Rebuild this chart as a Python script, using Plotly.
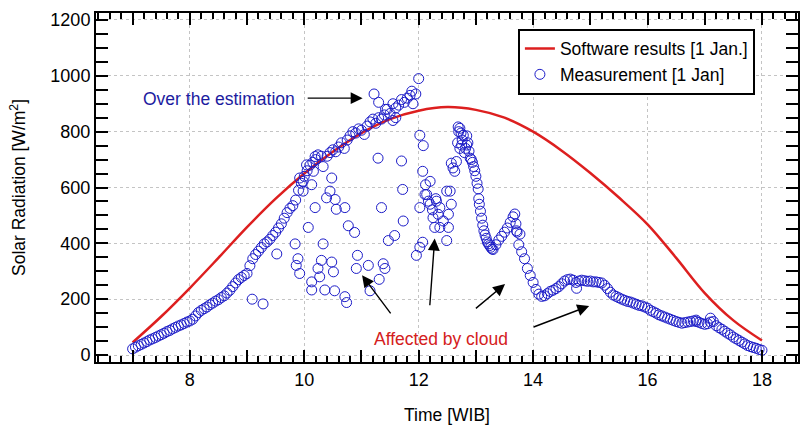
import plotly.graph_objects as go

# ---------------- data ----------------
soft_time = [7.0, 7.5, 8.0, 8.5, 9.0, 9.5, 10.0, 10.5, 11.0, 11.5, 12.0, 12.5,
             13.0, 13.5, 14.0, 14.5, 15.0, 15.5, 16.0, 16.5, 17.0, 17.5, 18.0]
soft_value = [45, 138, 240, 348, 458, 560, 650, 728, 795, 845, 875, 888,
              878, 850, 800, 732, 652, 564, 468, 348, 222, 124, 52]

# morning band
morning_time = [7.00, 7.05, 7.10, 7.15, 7.20, 7.25, 7.30, 7.35, 7.40, 7.45, 7.50, 7.55,
                7.60, 7.65, 7.70, 7.75, 7.80, 7.85, 7.90, 7.95, 8.00, 8.05, 8.10, 8.15,
                8.20, 8.25, 8.30, 8.35, 8.40, 8.45, 8.50, 8.55, 8.60, 8.65, 8.70, 8.75,
                8.80, 8.85, 8.90, 8.95, 9.00, 9.05, 9.10, 9.15, 9.20, 9.25, 9.30, 9.35,
                9.40, 9.45, 9.50, 9.55, 9.60, 9.65, 9.70, 9.75, 9.80, 9.85, 9.90, 9.95,
                10.00, 10.05, 10.10, 10.15, 10.20, 10.30]
morning_value = [22, 28, 33, 38, 43, 48, 54, 58, 63, 68, 73, 78,
                 84, 88, 94, 99, 104, 108, 113, 118, 122, 128, 140, 152,
                 160, 166, 172, 180, 186, 193, 198, 206, 212, 222, 232, 245,
                 258, 270, 278, 285, 292, 320, 345, 360, 372, 385, 398, 405,
                 415, 428, 440, 455, 470, 490, 510, 525, 535, 555, 590, 615,
                 640, 660, 680, 690, 700, 712]

# upper envelope near noon (incl. over-estimation points)
upper_time = [10.40, 10.45, 10.50, 10.55, 10.60, 10.65, 10.70, 10.75, 10.80, 10.85,
              10.90, 10.95, 11.00, 11.05, 11.10, 11.15, 11.20, 11.25, 11.30, 11.35,
              11.40, 11.45, 11.50, 11.55, 11.60, 11.65, 11.70, 11.75, 11.80, 11.85,
              11.90, 11.95, 12.00, 11.22, 11.30, 11.42, 11.88, 11.55, 11.60,
              9.98, 10.13, 9.92, 10.04, 10.19, 10.24, 10.33, 10.16, 9.98]
upper_value = [712, 725, 735, 728, 745, 760, 740, 770, 785, 800,
               795, 810, 805, 790, 820, 835, 845, 830, 850, 845,
               860, 880, 865, 900, 885, 895, 915, 905, 920, 930,
               900, 935, 990, 935, 905, 880, 945, 840, 850,
               587, 610, 634, 681, 711, 717, 675, 658, 622]

# scattered cloud-affected points
cloud_time = [9.09, 9.28, 9.52, 9.84, 9.89, 9.86, 9.92,
              10.19, 10.07, 10.45, 10.48, 10.39, 10.54, 10.56, 10.71, 10.77, 10.88,
              10.33, 10.30, 10.24, 10.27, 10.13, 10.13, 10.36, 10.48, 10.51, 10.53,
              10.71, 10.74, 10.93, 10.91, 11.12, 11.31, 11.38, 11.41, 11.15, 11.35,
              11.47, 11.58, 11.73, 11.72, 11.70, 11.29, 12.02, 12.08, 12.02, 12.07,
              11.96, 12.07, 12.20, 12.14, 12.02, 12.20, 12.31, 12.37, 12.25, 12.37,
              12.49, 12.52, 12.55, 12.28, 12.17, 12.11, 12.49, 12.57, 12.34, 12.52,
              12.24, 12.30, 12.12, 12.43]
cloud_value = [200, 183, 362, 398, 345, 321, 292,
               528, 457, 587, 634, 563, 557, 522, 528, 463, 439,
               398, 339, 310, 280, 262, 233, 233, 333, 298, 230,
               209, 188, 357, 310, 321, 271, 327, 310, 230, 528,
               410, 428, 480, 593, 695, 705, 787, 750, 386, 404,
               357, 658, 622, 575, 528, 540, 551, 528, 492, 457,
               410, 504, 587, 457, 551, 575, 587, 540, 504, 457,
               520, 560, 610, 480]

# afternoon band
afternoon_time = [12.57, 12.60, 12.63, 12.66, 12.68, 12.70, 12.72, 12.74, 12.76, 12.78,
                  12.80, 12.82, 12.84, 12.86, 12.88, 12.90, 12.92, 12.94, 12.96, 12.98,
                  13.00, 13.02, 13.04, 13.05, 13.06, 13.08, 13.10, 13.12, 13.14, 13.16,
                  13.18, 13.20, 13.22, 13.24, 13.26, 13.28, 13.30, 13.35, 13.40, 13.45,
                  13.50, 13.55, 13.60, 13.65, 13.68, 13.70, 13.72, 13.75, 13.80, 13.85,
                  13.90, 13.95, 14.00, 14.05, 14.10, 14.15, 14.20, 14.25, 14.30, 14.35,
                  14.40, 14.45, 14.50, 14.55, 14.60, 14.65, 14.70, 14.75, 14.80, 14.85,
                  14.90, 14.95, 15.00, 15.05, 15.10, 15.15, 15.20, 15.25, 15.30, 15.35,
                  15.40, 15.45, 15.50, 15.55, 15.60, 15.65, 15.70, 15.75, 15.80, 15.85,
                  15.90, 15.95, 16.00, 16.05, 16.10, 16.15, 16.20, 16.25, 16.30, 16.35,
                  16.40, 16.45, 16.50, 16.55, 16.60, 16.65, 16.70, 16.75, 16.80, 16.85,
                  16.90, 16.95, 17.00, 17.05, 17.10, 17.15, 17.20, 17.25, 17.30, 17.35,
                  17.40, 17.45, 17.50, 17.55, 17.60, 17.65, 17.70, 17.75, 17.80, 17.85,
                  17.90, 17.95, 18.00, 12.69, 12.75, 12.84, 12.72, 13.71, 13.77, 14.76,
                  17.10, 16.85]
afternoon_value = [687, 670, 658, 693, 760, 800, 812, 795, 770, 787,
                   725, 740, 785, 760, 730, 705, 700, 690, 675, 660,
                   640, 615, 595, 560, 540, 515, 490, 465, 445, 430,
                   418, 405, 398, 392, 386, 380, 378, 395, 412, 425,
                   440, 455, 475, 495, 505, 470, 440, 395, 370, 345,
                   310, 285, 260, 235, 218, 210, 212, 220, 228, 232,
                   238, 245, 255, 265, 270, 272, 268, 260, 265, 268,
                   266, 264, 265, 262, 262, 260, 258, 250, 238, 225,
                   215, 210, 205, 200, 196, 192, 190, 186, 182, 178,
                   176, 172, 168, 160, 155, 150, 144, 140, 136, 132,
                   128, 124, 120, 117, 114, 116, 118, 120, 122, 120,
                   117, 113, 110, 112, 118, 120, 105, 98, 92, 85,
                   78, 72, 64, 58, 52, 46, 40, 34, 30, 27,
                   24, 20, 17, 817, 752, 752, 740, 445, 433, 239,
                   132, 125]

meas_time = morning_time + upper_time + cloud_time + afternoon_time
meas_value = morning_value + upper_value + cloud_value + afternoon_value

FONT = "Liberation Sans, Arial, sans-serif"
BLUE = "#1c1cc8"
RED = "#dd1f1f"

fig = go.Figure()

fig.add_trace(go.Scatter(
    x=soft_time, y=soft_value, mode="lines", name="Software results [1 Jan.]",
    line=dict(color=RED, width=2.5, shape="spline", smoothing=1.0)))

fig.add_trace(go.Scatter(
    x=meas_time, y=meas_value, mode="markers", name="Measurement [1 Jan]",
    marker=dict(symbol="circle-open", size=10, color=BLUE, line=dict(width=1, color=BLUE))))

# invisible trace carrying the odd-hour tick axis
fig.add_trace(go.Scatter(
    x=soft_time, y=soft_value, xaxis="x2", mode="lines",
    line=dict(color="rgba(0,0,0,0)", width=0), showlegend=False, hoverinfo="skip"))

xr = [6.36, 18.63]
yr = [-25, 1225]

fig.update_layout(
    width=812, height=432,
    margin=dict(l=96, r=14, t=10, b=69),
    paper_bgcolor="white", plot_bgcolor="white",
    font=dict(family=FONT, size=17.5, color="black"),
    showlegend=True,
    legend=dict(x=0.601, y=0.955, xanchor="left", yanchor="top",
                bgcolor="white", bordercolor="black", borderwidth=2,
                font=dict(family=FONT, size=17.5, color="black"),
                tracegroupgap=0, itemwidth=30),
    xaxis=dict(
        range=xr, tickmode="linear", tick0=0, dtick=2,
        ticks="inside", ticklen=12, tickwidth=2, tickcolor="black",
        minor=dict(dtick=0.2, tick0=0, ticks="inside", ticklen=6, tickwidth=1.5,
                   tickcolor="black", showgrid=False),
        showline=True, linewidth=2, linecolor="black", mirror="allticks",
        showgrid=True, gridcolor="#c4c4c4", gridwidth=1, griddash="dot",
        zeroline=False,
        tickfont=dict(family=FONT, size=18),
        title=dict(text="Time [WIB]", font=dict(family=FONT, size=17.5), standoff=20),
    ),
    xaxis2=dict(
        range=xr, overlaying="x", side="bottom", tickmode="linear", tick0=1, dtick=2,
        showticklabels=False, ticks="inside", ticklen=12, tickwidth=2, tickcolor="black",
        showline=False, mirror="ticks", zeroline=False, showgrid=False,
    ),
    yaxis=dict(
        range=yr, tickmode="linear", tick0=0, dtick=200,
        ticks="inside", ticklen=12, tickwidth=2, tickcolor="black",
        minor=dict(dtick=50, tick0=0, ticks="inside", ticklen=6, tickwidth=1.5,
                   tickcolor="black", showgrid=False),
        showline=True, linewidth=2, linecolor="black", mirror="allticks",
        showgrid=True, gridcolor="#c4c4c4", gridwidth=1, griddash="dot",
        zeroline=False,
        tickfont=dict(family=FONT, size=18),
        title=dict(text="Solar Radiation [W/m<sup>2</sup>]", font=dict(family=FONT, size=17.5),
                   standoff=20),
    ),
)

# text annotations
fig.add_annotation(x=8.51, y=916, xref="x", yref="y", text="Over the estimation",
                   showarrow=False, font=dict(family=FONT, size=17.5, color="#1c1ca0"))
fig.add_annotation(x=12.39, y=56, xref="x", yref="y", text="Affected by cloud",
                   showarrow=False, font=dict(family=FONT, size=17.5, color="#d42020"))

# arrows: head and tail positions
arrow_head_x = [11.02, 11.01, 12.28, 13.51, 14.98]
arrow_head_y = [920, 286, 417, 254, 176]
arrow_tail_x = [9.99, 11.58, 12.18, 12.93, 13.94]
arrow_tail_y = [920, 130, 137, 155, 95]
for hx, hy, tx, ty in zip(arrow_head_x, arrow_head_y, arrow_tail_x, arrow_tail_y):
    fig.add_annotation(x=hx, y=hy, ax=tx, ay=ty, xref="x", yref="y", axref="x", ayref="y",
                       text=" ", showarrow=True, arrowhead=2, arrowsize=1.7,
                       arrowwidth=1.4, arrowcolor="black")

fig.write_html("out.html")
